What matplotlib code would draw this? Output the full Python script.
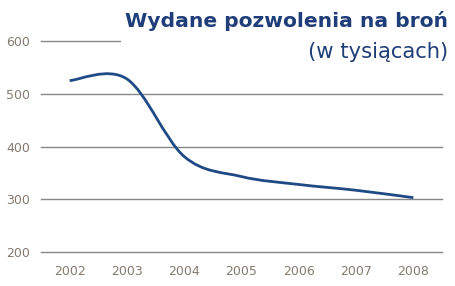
import numpy as np
import matplotlib.pyplot as plt
from matplotlib.path import Path
from matplotlib.patches import PathPatch, Rectangle

# data (thousands of permits)
years = ["2002", "2003", "2004", "2005", "2006", "2007", "2008"]
permits = [525, 528, 381, 343, 328, 317, 303]
yticks = [200, 300, 400, 500, 600]

title = "Wydane pozwolenia na broń"
subtitle = "(w tysiącach)"

navy = "#1f3d78"
line_col = "#1f4a86"
tick_col = "#857a6f"
grid_col = "#878787"


# smooth curve through the points (Catmull-Rom as cubic Bezier pieces)
def smooth_path(xs, ys):
    pts = np.column_stack([xs, ys]).astype(float)
    padded = np.vstack([pts[0], pts, pts[-1]])
    verts = [pts[0]]
    codes = [Path.MOVETO]
    for i in range(len(pts) - 1):
        p0, p1, p2, p3 = padded[i], padded[i + 1], padded[i + 2], padded[i + 3]
        verts += [p1 + (p2 - p0) / 6, p2 - (p3 - p1) / 6, p2]
        codes += [Path.CURVE4] * 3
    return Path(verts, codes)


fig = plt.figure(figsize=(4.55, 2.86), dpi=100)
ax = fig.add_axes([41 / 455, 1 - 252 / 286, 401 / 455, 211 / 286])

x = np.arange(len(years))
ax.add_patch(PathPatch(smooth_path(x, permits), fill=False, edgecolor=line_col,
                       lw=2, capstyle="butt", zorder=3))

ax.set_xlim(-0.5, len(years) - 0.5)
ax.set_ylim(yticks[0], yticks[-1])
ax.set_xticks(x)
ax.set_xticklabels(years)
ax.set_yticks(yticks)
ax.tick_params(length=0, labelsize=9, labelcolor=tick_col)
ax.tick_params(axis="x", pad=9.5)
ax.tick_params(axis="y", pad=8)
ax.grid(axis="y", color=grid_col, lw=1)
for gl in ax.get_ygridlines():
    gl.set_clip_on(False)
ax.set_axisbelow(True)
ax.patch.set_visible(False)
for s in ax.spines.values():
    s.set_visible(False)

t1 = fig.text(448 / 455, 1 - 27 / 286, title, ha="right", va="baseline",
              fontsize=14.6, fontweight="bold", color=navy, zorder=6)
t2 = fig.text(448 / 455, 1 - 58.5 / 286, subtitle, ha="right", va="baseline",
              fontsize=15.2, color=navy, zorder=6)

# white box behind the title block hides the top gridline
fig.canvas.draw()
r = fig.canvas.get_renderer()
b1 = t1.get_window_extent(r)
b2 = t2.get_window_extent(r)
W, H = fig.canvas.get_width_height()
x0 = (b1.x0 - 4) / W
y0 = (b2.y0 - 2) / H
fig.add_artist(Rectangle((x0, y0), 1 - x0, 1 - y0, transform=fig.transFigure,
                         facecolor="white", edgecolor="none", zorder=5))

fig.savefig("out.png", dpi=100)
